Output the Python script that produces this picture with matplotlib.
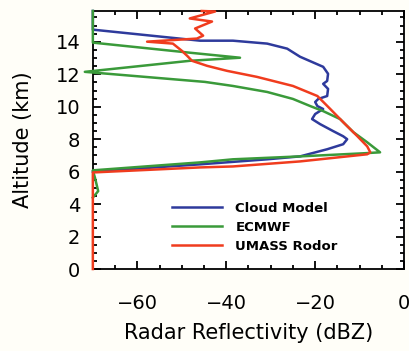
import numpy as np
import matplotlib.pyplot as plt
from matplotlib.ticker import MultipleLocator

# Cloud Model (blue)
cloud_x = [-70, -70, -45.9, -38.5, -30.8, -26.3, -23.4, -18.2, -17.1, -17.3, -18.2, -17.1,
           -17.3, -19.3, -20.0, -19.5, -18.2, -20.0, -20.7, -18.9, -15.9, -13.7, -12.8,
           -13.7, -17.3, -23.4, -30.8, -45.9, -70]
cloud_y = [15.9, 14.75, 14.07, 14.07, 13.89, 13.58, 13.08, 12.46, 12.03, 11.59, 11.41, 11.10,
           10.66, 10.48, 10.29, 10.04, 9.86, 9.55, 9.24, 8.93, 8.49, 8.18, 8.00,
           7.69, 7.38, 6.94, 6.76, 6.45, 6.0]

# ECMWF (green)
ecmwf_x = [-70, -70, -48.2, -36.9, -48.2, -71.8, -44.8, -38.5, -30.8, -25.0, -21.1, -18.2,
           -14.4, -11.4, -8.3, -5.4, -9.2, -23.4, -38.5, -45.9, -70, -69.5, -68.8, -70]
ecmwf_y = [15.9, 13.95, 13.33, 13.02, 12.83, 12.15, 11.53, 11.28, 10.91, 10.48, 10.04, 9.73,
           9.24, 8.43, 7.81, 7.19, 7.13, 6.94, 6.76, 6.57, 6.08, 5.6, 4.8, 4.4]

# UMASS Radar (red)
umass_x = [-45.5, -42.5, -48.2, -43.2, -47.0, -45.2, -46.6, -57.8, -52.0, -50.0, -48.8, -47.7,
           -44.3, -39.8, -33.1, -25.0, -19.5, -16.6, -13.7, -10.5, -8.3, -7.6, -8.3, -23.4,
           -38.5, -45.9, -70, -70]
umass_y = [15.9, 15.87, 15.44, 15.25, 14.82, 14.38, 14.2, 14.01, 13.89, 13.45, 13.14, 12.83,
           12.52, 12.21, 11.84, 11.28, 10.66, 9.86, 9.05, 8.18, 7.56, 7.19, 7.07, 6.63,
           6.32, 6.26, 5.95, 0]

fig = plt.figure(figsize=(4.09, 3.51), dpi=100, facecolor='#fffef8')
ax = fig.add_axes([0.227, 0.2336, 0.761, 0.7351])

ax.plot(cloud_x, cloud_y, color='#2e3a9c', lw=1.8, label='Cloud Model', zorder=3, clip_on=False)
ax.plot(ecmwf_x, ecmwf_y, color='#3a9a3a', lw=1.8, label='ECMWF', zorder=3, clip_on=False)
ax.plot(umass_x, umass_y, color='#f03c1e', lw=1.8, label='UMASS Rodor', zorder=4, clip_on=False)

ax.set_xlim(-70, 0)
ax.set_ylim(0, 15.9)
ax.xaxis.set_major_locator(MultipleLocator(20))
ax.xaxis.set_minor_locator(MultipleLocator(5))
ax.yaxis.set_major_locator(MultipleLocator(2))
ax.yaxis.set_minor_locator(MultipleLocator(0.5))
ax.tick_params(which='both', direction='in', top=True, right=True, width=1.3)
ax.tick_params(which='major', length=6)
ax.tick_params(which='minor', length=3)
ax.tick_params(axis='x', which='major', labelsize=14, pad=18)
ax.tick_params(axis='y', which='major', labelsize=14, pad=9)
for s in ax.spines.values():
    s.set_linewidth(1.3)

ax.set_xlabel('Radar Reflectivity (dBZ)', fontsize=15, labelpad=7)
ax.set_ylabel('Altitude (km)', fontsize=15, labelpad=16)

leg = ax.legend(loc='center left', bbox_to_anchor=(0.4205, 0.353),
                bbox_transform=fig.transFigure, frameon=False,
                prop={'size': 9.5, 'weight': 'bold'}, handlelength=3.8,
                handletextpad=1.0, labelspacing=0.45, borderpad=0, borderaxespad=0)

plt.savefig('out.png', dpi=100, facecolor=fig.get_facecolor())
